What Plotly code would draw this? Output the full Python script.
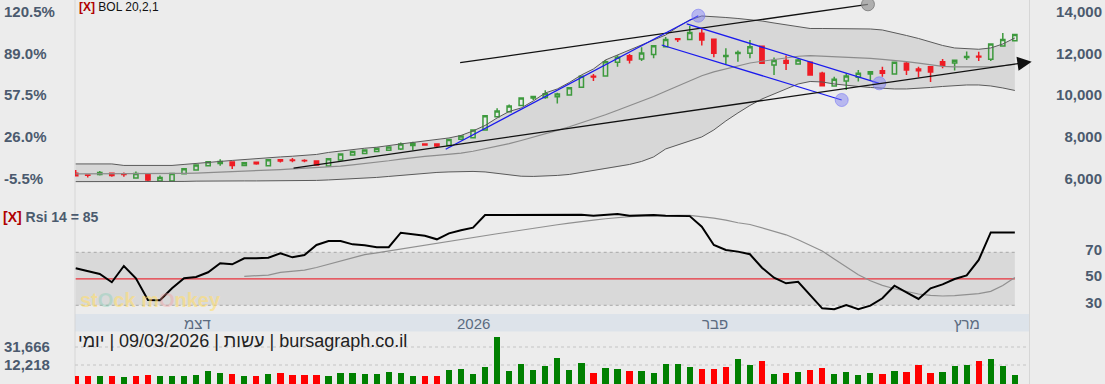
import plotly.graph_objects as go

W, H = 1105, 384

# ---------------- data ----------------
idx = list(range(79))

opens = [6240, 6162, 6186, 6248, 6210, 6018, 6196, 5874, 5874, 6224,
         6402, 6608, 6714, 6786, 6618, 6772, 6608, 6896, 6882, 6858,
         6834, 6594, 6882, 7122, 7194, 7290, 7347, 7410, 7578, 7650,
         7650, 7578, 7875, 7952, 8322, 8960, 9196, 9498, 9858, 9882,
         9920, 10002, 10372, 10900, 10914, 11572, 11888, 11730, 11946, 12320,
         12704, 12666, 12964, 12680, 11850, 11994, 12002, 12340, 11442, 11658,
         11490, 11572, 11044, 10434, 10674, 10852, 11010, 11168, 11010, 11524,
         11250, 11360, 11600, 11538, 11802, 11860, 11716, 12354, 12608]
highs = [6402, 6170, 6354, 6250, 6282, 6330, 6200, 6138, 6240, 6470,
         6650, 6830, 6916, 6790, 6760, 6775, 6900, 6900, 6978, 6916,
         6840, 6950, 7180, 7300, 7400, 7460, 7515, 7722, 7760, 7660,
         7655, 7875, 8045, 8330, 9015, 9364, 9546, 9870, 9962, 10228,
         10112, 10360, 10910, 11010, 11682, 11908, 11970, 12292, 12380, 12786,
         12738, 13314, 13194, 12690, 12244, 12138, 12642, 12345, 11802, 11898,
         11754, 11580, 11120, 10880, 11044, 11202, 11154, 11360, 11580, 11586,
         11360, 11365, 11730, 11680, 12090, 12080, 12460, 12978, 12930]
lows = [6126, 6042, 6138, 6080, 6080, 6010, 5850, 5870, 5870, 6220,
        6400, 6590, 6608, 6450, 6610, 6656, 6600, 6762, 6770, 6770,
        6642, 6590, 6875, 7110, 7180, 7280, 7340, 7362, 7347, 7590,
        7482, 7570, 7865, 7945, 8315, 8955, 9190, 9490, 9762, 9824,
        9594, 9995, 10365, 10674, 10905, 11360, 11514, 11634, 11764, 12310,
        12546, 12660, 12378, 11812, 11490, 11600, 11764, 11520, 10962, 11202,
        11466, 10955, 10445, 10410, 10242, 10650, 10674, 10880, 11005, 10962,
        10852, 10626, 11284, 11178, 11682, 11634, 11634, 12350, 12600]
closes = [6126, 6148, 6282, 6138, 6186, 6234, 5922, 6042, 6234, 6460,
          6642, 6800, 6810, 6618, 6748, 6704, 6896, 6834, 6853, 6840,
          6642, 6944, 7170, 7290, 7362, 7448, 7506, 7650, 7684, 7602,
          7554, 7866, 8034, 8322, 9008, 9234, 9474, 9858, 9930, 10064,
          10050, 10352, 10900, 10866, 11600, 11812, 11682, 12018, 12368, 12666,
          12666, 13002, 12642, 12002, 11898, 12042, 12320, 11524, 11658, 11524,
          11682, 10962, 10448, 10756, 10914, 11044, 11120, 11044, 11572, 11202,
          11168, 11106, 11428, 11668, 11850, 11826, 12450, 12666, 12906]

bol_upper = [6690, 6690, 6690, 6690, 6618, 6618, 6618, 6618, 6618, 6666,
             6724, 6762, 6810, 6858, 6906, 6944, 6992, 7026, 7060, 7098,
             7146, 7242, 7314, 7362, 7444, 7492, 7554, 7650, 7722, 7794,
             7842, 7938, 8058, 8274, 8538, 8898, 9210, 9378, 9714, 10098,
             10290, 10602, 10962, 11250, 11682, 11922, 12162, 12402, 12642, 12882,
             13266, 13602, 13794, 13770, 13722, 13674, 13626, 13554, 13458, 13362,
             13266, 13194, 13194, 13194, 13194, 13184, 13170, 13122, 13002, 12858,
             12714, 12546, 12378, 12258, 12210, 12196, 12258, 12450, 12738]
bol_mid = [6210, 6210, 6210, 6210, 6210, 6210, 6210, 6210, 6220, 6234,
           6248, 6268, 6292, 6316, 6340, 6364, 6388, 6421, 6450, 6476,
           6502, 6542, 6586, 6644, 6703, 6763, 6843, 6923, 6995, 7052,
           7098, 7151, 7212, 7298, 7411, 7537, 7666, 7817, 7971, 8132,
           8302, 8473, 8659, 8838, 9050, 9268, 9477, 9695, 9929, 10183,
           10439, 10696, 10926, 11110, 11255, 11395, 11537, 11621, 11707, 11780,
           11862, 11892, 11870, 11864, 11830, 11791, 11763, 11714, 11675, 11601,
           11526, 11431, 11371, 11354, 11352, 11341, 11347, 11404, 11467]
bol_lower = [5840, 5840, 5840, 5840, 5826, 5826, 5826, 5826, 5826, 5850,
             5864, 5874, 5874, 5874, 5874, 5874, 5874, 5874, 5874, 5874,
             5898, 5922, 5946, 5970, 6004, 6042, 6090, 6138, 6186, 6258,
             6282, 6306, 6320, 6330, 6306, 6234, 6162, 6100, 6090, 6104,
             6138, 6186, 6282, 6378, 6450, 6546, 6666, 6810, 7026, 7410,
             7602, 7770, 7986, 8322, 8754, 9138, 9498, 9810, 10050, 10314,
             10530, 10650, 10626, 10530, 10458, 10410, 10362, 10314, 10290, 10290,
             10314, 10362, 10410, 10458, 10482, 10482, 10434, 10338, 10218]

rsi = [57.9, 55.9, 53.6, 47.4, 59.7, 50.4, 34.0, 33.8, 42.8, 50.4,
       51.4, 54.9, 61.7, 60.9, 65.5, 65.5, 65.9, 69.2, 66.2, 68.0,
       75.5, 78.5, 78.5, 76.0, 75.3, 73.8, 73.8, 84.8, 83.6, 82.5,
       79.8, 84.3, 86.6, 88.6, 98.1, 98.1, 98.1, 98.1, 98.1, 98.1,
       98.1, 98.1, 98.3, 97.6, 98.3, 98.9, 97.6, 98.1, 98.1, 97.6,
       97.3, 97.3, 89.3, 75.5, 71.7, 70.5, 68.5, 58.4, 50.8, 46.6,
       47.8, 37.8, 27.7, 27.0, 30.2, 27.0, 29.7, 35.3, 44.8, 39.8,
       34.8, 42.8, 45.8, 49.8, 52.6, 64.2, 85.0, 85.0, 85.0]
rsi_sig_idx = list(range(14, 79))
rsi_sig = [51.9, 52.3, 52.8, 54.8, 55.5, 56.5, 58.5, 61.0, 63.5, 65.5,
           68.3, 69.5, 71.0, 72.3, 73.5, 75.0, 76.8, 78.3, 79.8, 81.3,
           82.5, 84.0, 85.3, 86.8, 88.2, 89.5, 90.8, 92.0, 93.3, 94.3,
           95.3, 96.2, 96.9, 97.3, 97.6, 97.8, 97.9, 97.8, 97.0, 95.8,
           94.3, 92.3, 91.0, 88.5, 86.0, 83.2, 79.5, 75.5, 71.0, 65.0,
           59.0, 53.0, 48.5, 45.0, 42.5, 40.5, 38.5, 37.5, 37.0, 37.3,
           38.0, 38.8, 40.5, 45.0, 51.0]

volume = [7133, 7133, 7133, 7133, 6277, 7133, 7989, 7133, 7133, 7133,
          7989, 11413, 9701, 8845, 7133, 7133, 8845, 9701, 7989, 7989,
          7989, 7133, 9701, 9701, 8845, 8845, 10557, 9701, 7133, 7133,
          7133, 12269, 13125, 8845, 14837, 40517, 11413, 17405, 12269, 15693,
          21971, 12269, 18261, 9701, 13981, 13125, 11413, 11413, 9701, 17405,
          17405, 14837, 13125, 13125, 14837, 21685, 16549, 19973, 8845, 9701,
          10557, 12269, 13981, 8845, 10557, 7989, 9701, 8845, 11413, 10557,
          16549, 9701, 10557, 15693, 16549, 19973, 21115, 15693, 7989]
vol_dir = list("RRGRGRRGGG" "GGGRGRGRRR" "RGGGGGGGGR" "RGGGGGGGGG"
               "GGGRGGRGGG" "GGRRRGGRGR" "GRRGGGGRGR" "RRGGGRGGG")

price_ticks = [6000, 8000, 10000, 12000, 14000]
pct_ticks = [-5.5, 26.0, 57.5, 89.0, 120.5]
pct_labels = ["-5.5%", "26.0%", "57.5%", "89.0%", "120.5%"]
rsi_ticks = [30, 50, 70]
vol_tickvals = [31666, 16264]
vol_ticktext = ["31,666", "12,218"]

month_labels = ["דצמ", "2026", "פבר", "מרץ"]
month_pos = [10.1, 33.0, 53.1, 74.0]

# drawing-tool lines (index, price)
black_line_x = [31.93, 65.8]
black_line_y = [11551, 14355]
arrow_start = (17.97, 6480)
arrow_tip = (79.4, 11599)
blue_up_x = [30.73, 51.71]
blue_up_y = [7393, 13808]
blue_ch1_x = [50.75, 66.74]
blue_ch1_y = [13410, 10562]
blue_ch2_x = [48.67, 63.62]
blue_ch2_y = [12401, 9760]
blue_handles_x = [51.71, 66.74, 63.62]
blue_handles_y = [13808, 10562, 9760]
gray_handle_x = [65.8]
gray_handle_y = [14355]

# ---------------- styling ----------------
BG = "#ececec"
GREEN = "#3d9a3d"
RED = "#ee1c24"
LBL = "#4b5a6e"
FONT = "Liberation Sans, Arial, sans-serif"


def py(p):
    return 1 - p / H


fig = go.Figure()

# candles (drawn by plotly below scatter traces)
fig.add_trace(go.Candlestick(
    x=idx, open=opens, high=highs, low=lows, close=closes,
    increasing=dict(line=dict(color=GREEN, width=1.5), fillcolor="rgba(0,0,0,0)"),
    decreasing=dict(line=dict(color=RED, width=1.5), fillcolor=RED),
    whiskerwidth=0, hoverinfo="skip"))

# Bollinger lines
fig.add_trace(go.Scatter(x=idx, y=bol_upper, mode="lines",
                         line=dict(color="#5a5a5a", width=1), hoverinfo="skip"))
fig.add_trace(go.Scatter(x=idx, y=bol_lower, mode="lines",
                         line=dict(color="#5a5a5a", width=1), hoverinfo="skip"))
fig.add_trace(go.Scatter(x=idx, y=bol_mid, mode="lines",
                         line=dict(color="#8c8c8c", width=1.2), hoverinfo="skip"))

# trend lines
fig.add_trace(go.Scatter(x=black_line_x, y=black_line_y, mode="lines",
                         line=dict(color="#111111", width=1.3), hoverinfo="skip"))
fig.add_trace(go.Scatter(x=blue_up_x, y=blue_up_y, mode="lines",
                         line=dict(color="#1a1aee", width=1.3), hoverinfo="skip"))
fig.add_trace(go.Scatter(x=blue_ch1_x, y=blue_ch1_y, mode="lines",
                         line=dict(color="#1a1aee", width=1.3), hoverinfo="skip"))
fig.add_trace(go.Scatter(x=blue_ch2_x, y=blue_ch2_y, mode="lines",
                         line=dict(color="#1a1aee", width=1.3), hoverinfo="skip"))

# handles
fig.add_trace(go.Scatter(x=blue_handles_x, y=blue_handles_y, mode="markers",
                         marker=dict(size=13, color="rgba(120,120,245,0.45)",
                                     line=dict(color="rgba(120,120,245,0.6)", width=1)),
                         hoverinfo="skip"))
fig.add_trace(go.Scatter(x=gray_handle_x, y=gray_handle_y, mode="markers",
                         marker=dict(size=13, color="rgba(150,150,150,0.7)",
                                     line=dict(color="rgba(120,120,120,0.8)", width=1)),
                         hoverinfo="skip"))

# dummy trace for percentage axis
fig.add_trace(go.Scatter(x=[0], y=[0], yaxis="y2", mode="markers",
                         marker=dict(opacity=0), hoverinfo="skip"))

# RSI
fig.add_trace(go.Scatter(x=rsi_sig_idx, y=rsi_sig, yaxis="y3", mode="lines",
                         line=dict(color="#909090", width=1.2), hoverinfo="skip"))
fig.add_trace(go.Scatter(x=idx, y=rsi, yaxis="y3", mode="lines",
                         line=dict(color="#000000", width=2), hoverinfo="skip"))

# volume
fig.add_trace(go.Bar(x=idx, y=volume, yaxis="y4", width=0.52,
                     marker=dict(color=["#008000" if d == "G" else "#ff0000" for d in vol_dir],
                                 line=dict(width=0)),
                     hoverinfo="skip"))

tickfont = dict(family=FONT, size=15, color=LBL, weight="bold")
common_y = dict(showgrid=False, zeroline=False, showline=False, ticks="",
                anchor="free", ticklabelposition="inside", automargin=False,
                ticklabeloverflow="allow", tickfont=tickfont, fixedrange=True)

x0p, x1p = 75 / W, 1040 / W
fig.update_layout(
    width=W, height=H, autosize=False,
    margin=dict(l=0, r=0, t=0, b=0, pad=0),
    paper_bgcolor=BG, plot_bgcolor=BG,
    showlegend=False, boxgap=0.5, bargap=0,
    xaxis=dict(domain=[x0p, x1p], range=[-0.058, 80.09], visible=False,
               rangeslider=dict(visible=False), fixedrange=True),
    yaxis=dict(domain=[py(200), 1], range=[4958, 14562], side="right", position=1,
               tickvals=price_ticks, tickformat=",", **common_y),
    yaxis2=dict(overlaying="y", range=[-21.91, 129.35], side="left", position=0,
                tickvals=pct_ticks, ticktext=pct_labels, **common_y),
    yaxis3=dict(domain=[py(314), py(200)], range=[23.43, 109.47], side="right", position=1,
                tickvals=rsi_ticks, ticklabelshift=-3, **common_y),
    yaxis4=dict(domain=[0, py(331)], range=[0, 45368], side="left", position=0,
                tickvals=vol_tickvals, ticktext=vol_ticktext, **common_y),
)

# band fill path built from the band arrays (below the candles)
band_pts = [f"{x},{y}" for x, y in zip(idx, bol_upper)] + \
           [f"{x},{y}" for x, y in zip(idx[::-1], bol_lower[::-1])]
band_path = "M " + " L ".join(band_pts) + " Z"

shapes = [
    dict(type="path", xref="x", yref="y", path=band_path,
         fillcolor="#d7d7d7", line=dict(width=0), layer="below"),
    # RSI zone
    dict(type="rect", xref="x", yref="y3", x0=0, x1=78, y0=30, y1=70,
         fillcolor="#d9d9d9", line=dict(width=0), layer="below"),
    dict(type="line", xref="x", yref="y3", x0=0, x1=78, y0=70, y1=70,
         line=dict(color="#a8a8a8", width=1, dash="dot"), layer="below"),
    dict(type="line", xref="x", yref="y3", x0=0, x1=78, y0=30, y1=30,
         line=dict(color="#a8a8a8", width=1, dash="dot"), layer="below"),
    dict(type="line", xref="x", yref="y3", x0=0, x1=78, y0=50, y1=50,
         line=dict(color="#e8323c", width=1.3), layer="below"),
    # time strip
    dict(type="rect", xref="paper", yref="paper", x0=75 / W, x1=1029 / W,
         y0=py(331.5), y1=py(314), fillcolor="#dde3ea", line=dict(width=0), layer="below"),
    # borders
    dict(type="line", xref="paper", yref="paper", x0=75 / W, x1=75 / W, y0=0, y1=1,
         line=dict(color="#d6d6d6", width=1), layer="below"),
    dict(type="line", xref="paper", yref="paper", x0=1029.5 / W, x1=1029.5 / W, y0=0, y1=1,
         line=dict(color="#d6d6d6", width=1), layer="below"),
]
for v in vol_tickvals:
    shapes.append(dict(type="line", xref="paper", yref="y4", x0=75 / W, x1=1029 / W,
                       y0=v, y1=v, line=dict(color="#c4c4c4", width=1, dash="dot"),
                       layer="below"))
fig.update_layout(shapes=shapes)

ann = [
    dict(x=arrow_tip[0], y=arrow_tip[1], xref="x", yref="y",
         ax=arrow_start[0], ay=arrow_start[1], axref="x", ayref="y",
         text="", showarrow=True, arrowhead=2, arrowsize=2.2, arrowwidth=1.3,
         arrowcolor="#111111"),
    dict(x=77 / W, y=py(6.5), xref="paper", yref="paper", xanchor="left", yanchor="middle",
         showarrow=False, font=dict(family=FONT, size=12, color="#111111"),
         text="<span style='color:#b00000'><b>[X]</b></span> BOL 20,2,1"),
    dict(x=1 / W, y=py(217), xref="paper", yref="paper", xanchor="left", yanchor="middle",
         showarrow=False, font=dict(family=FONT, size=14, color=LBL, weight="bold"),
         text="<span style='color:#b00000'>[X]</span> Rsi 14 = 85"),
    dict(x=76 / W, y=py(341), xref="paper", yref="paper", xanchor="left", yanchor="middle",
         showarrow=False, font=dict(family=FONT, size=18, color="#222222"),
         text="יומי\u200e | 09/03/2026 | עשות\u200e | bursagraph.co.il"),
    dict(x=150 / W, y=py(300), xref="paper", yref="paper", xanchor="center", yanchor="middle",
         showarrow=False, font=dict(family=FONT, size=20, color="rgba(255,222,110,0.6)",
                                    weight="bold"),
         text="st<span style='color:rgba(120,205,175,0.6)'>O</span>ck "
              "m<span style='color:rgba(245,150,150,0.6)'>O</span>nkey"),
]
for lab, pos in zip(month_labels, month_pos):
    ann.append(dict(x=pos, y=py(323), xref="x", yref="paper", xanchor="center",
                    yanchor="middle", showarrow=False, text=lab,
                    font=dict(family=FONT, size=15, color="#5b6b80")))
fig.update_layout(annotations=ann)

fig.write_html("out.html", config={"displayModeBar": False, "staticPlot": True},
               post_script="document.body.style.margin='0';")
